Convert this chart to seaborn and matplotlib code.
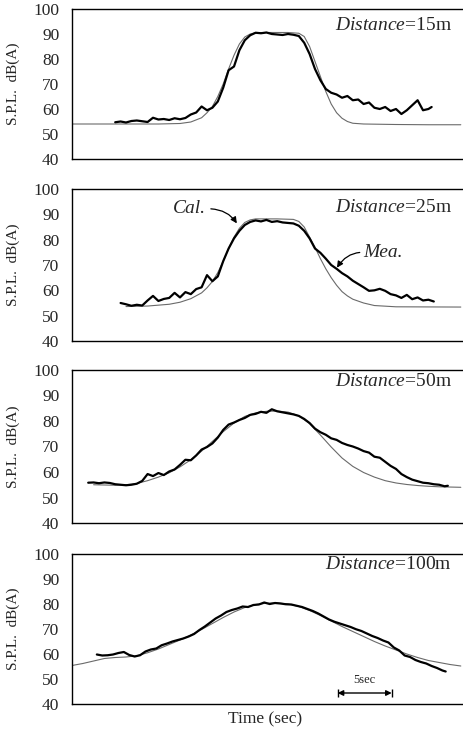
import matplotlib
matplotlib.use("Agg")
import matplotlib.pyplot as plt
import pandas as pd
import seaborn as sns

# ---------------- data ----------------
distances = ["15m", "25m", "50m", "100m"]
y_ticks = [40, 50, 60, 70, 80, 90, 100]

t_mea_15 = [4.0, 4.5, 5.0, 5.5, 6.0, 6.5, 7.0, 7.5, 8.0, 8.5, 9.0, 9.5, 10.0, 10.5, 11.0, 11.5,
            12.0, 12.5, 13.0, 13.5, 14.0, 14.5, 15.0, 15.5, 16.0, 16.5, 17.0, 17.5, 18.0, 18.5,
            19.0, 19.5, 20.0, 20.5, 21.0, 21.5, 22.0, 22.5, 23.0, 23.5, 24.0, 24.5, 25.0, 25.5,
            26.0, 26.5, 27.0, 27.5, 28.0, 28.5, 29.0, 29.5, 30.0, 30.5, 31.0, 31.5, 32.0, 32.5,
            33.0, 33.3]
mea_15 = [54.7, 55.0, 54.6, 55.2, 55.4, 55.1, 54.8, 56.5, 55.8, 56.0, 55.6, 56.3, 55.9, 56.4,
          57.8, 58.6, 61.0, 59.5, 60.5, 63.0, 68.5, 75.5, 77.0, 83.5, 87.5, 89.5, 90.5, 90.3,
          90.6, 90.0, 89.8, 89.6, 90.0, 89.7, 89.2, 86.5, 82.0, 76.0, 71.5, 68.0, 66.5, 65.8,
          64.5, 65.2, 63.5, 63.8, 62.0, 62.6, 60.5, 60.0, 60.8, 59.2, 60.0, 58.0, 59.5, 61.5,
          63.5, 59.5, 60.0, 60.8]
t_cal_15 = [0, 2, 4, 6, 8, 10, 11, 12, 12.5, 13, 13.5, 14, 14.5, 15, 15.5, 16, 16.5, 17, 18,
            19, 20, 21, 21.5, 22, 22.5, 23, 23.5, 24, 24.5, 25, 25.5, 26, 27, 30, 33, 36]
cal_15 = [54.0, 54.0, 54.0, 54.0, 54.0, 54.2, 54.8, 56.5, 58.5, 61.0, 65.0, 70.0, 76.0, 81.5,
          86.0, 88.8, 90.0, 90.5, 90.6, 90.6, 90.6, 90.3, 89.0, 85.0, 79.0, 73.0, 67.0, 62.0,
          58.5, 56.3, 55.0, 54.3, 54.0, 53.8, 53.7, 53.7]

t_mea_25 = [4.5, 5.0, 5.5, 6.0, 6.5, 7.0, 7.5, 8.0, 8.5, 9.0, 9.5, 10.0, 10.5, 11.0, 11.5,
            12.0, 12.5, 13.0, 13.5, 14.0, 14.5, 15.0, 15.5, 16.0, 16.5, 17.0, 17.5, 18.0, 18.5,
            19.0, 19.5, 20.0, 20.5, 21.0, 21.5, 22.0, 22.5, 23.0, 23.5, 24.0, 24.5, 25.0, 25.5,
            26.0, 26.5, 27.0, 27.5, 28.0, 28.5, 29.0, 29.5, 30.0, 30.5, 31.0, 31.5, 32.0, 32.5,
            33.0, 33.5]
mea_25 = [55.0, 54.5, 53.9, 54.3, 54.0, 56.0, 57.8, 55.8, 56.6, 57.0, 59.0, 57.2, 59.3, 58.5,
          60.5, 61.2, 66.0, 63.6, 65.5, 71.5, 76.5, 80.5, 83.5, 85.8, 87.0, 87.6, 87.2, 87.8,
          87.0, 87.3, 86.8, 86.6, 86.4, 85.5, 83.5, 80.5, 76.5, 74.8, 72.5, 70.0, 68.5, 66.8,
          65.5, 63.8, 62.5, 61.2, 59.8, 60.0, 60.6, 59.8, 58.5, 58.0, 57.0, 58.2, 56.5, 57.2,
          56.0, 56.3, 55.6]
t_cal_25 = [5, 7, 9, 10, 11, 12, 12.5, 13, 13.5, 14, 14.5, 15, 15.5, 16, 16.5, 17, 19, 20.5,
            21, 21.5, 22, 22.5, 23, 23.5, 24, 24.5, 25, 25.5, 26, 27, 28, 30, 36]
cal_25 = [53.6, 53.8, 54.5, 55.3, 56.7, 59.0, 61.0, 63.5, 67.0, 71.5, 76.5, 81.0, 84.5, 86.8,
          87.8, 88.2, 88.2, 88.0, 87.2, 85.0, 81.0, 77.0, 72.5, 68.5, 65.0, 62.0, 59.5, 57.8,
          56.5, 55.0, 54.0, 53.5, 53.4]

t_mea_50 = [1.5, 2.0, 2.5, 3.0, 3.5, 4.0, 4.5, 5.0, 5.5, 6.0, 6.5, 7.0, 7.5, 8.0, 8.5, 9.0,
            9.5, 10.0, 10.5, 11.0, 11.5, 12.0, 12.5, 13.0, 13.5, 14.0, 14.5, 15.0, 15.5, 16.0,
            16.5, 17.0, 17.5, 18.0, 18.5, 19.0, 19.5, 20.0, 20.5, 21.0, 21.5, 22.0, 22.5, 23.0,
            23.5, 24.0, 24.5, 25.0, 25.5, 26.0, 26.5, 27.0, 27.5, 28.0, 28.5, 29.0, 29.5, 30.0,
            30.5, 31.0, 31.5, 32.0, 32.5, 33.0, 33.5, 34.0, 34.5, 34.8]
mea_50 = [55.8, 55.9, 55.6, 55.9, 55.7, 55.2, 55.0, 54.8, 55.0, 55.4, 56.5, 59.2, 58.4, 59.6,
          58.8, 60.2, 61.0, 62.8, 64.8, 64.6, 66.5, 68.8, 69.8, 71.2, 73.5, 76.5, 78.6, 79.4,
          80.4, 81.2, 82.4, 82.8, 83.6, 83.2, 84.6, 83.8, 83.4, 83.0, 82.6, 82.0, 80.8, 79.2,
          77.0, 75.6, 74.6, 73.2, 72.6, 71.4, 70.6, 70.0, 69.2, 68.2, 67.6, 66.0, 65.6, 64.0,
          62.4, 61.2, 59.2, 58.0, 57.0, 56.4, 55.8, 55.6, 55.2, 55.0, 54.4, 54.6]
t_cal_50 = [2, 4, 5, 6, 7, 8, 9, 10, 11, 12, 13, 14, 15, 16, 17, 18, 19, 20, 21, 22, 23, 24,
            25, 26, 27, 28, 29, 30, 31, 32, 33, 34, 36]
cal_50 = [55.0, 54.8, 55.0, 55.5, 56.6, 58.0, 59.7, 62.0, 64.8, 68.2, 72.0, 75.8, 79.2, 81.8,
          83.2, 83.8, 83.9, 83.5, 82.0, 79.0, 74.5, 69.8, 65.5, 62.2, 59.8, 58.0, 56.6, 55.7,
          55.1, 54.7, 54.4, 54.2, 54.0]

t_mea_100 = [2.3, 2.8, 3.3, 3.8, 4.3, 4.8, 5.3, 5.8, 6.3, 6.8, 7.3, 7.8, 8.3, 8.8, 9.3, 9.8,
             10.3, 10.8, 11.3, 11.8, 12.3, 12.8, 13.3, 13.8, 14.3, 14.8, 15.3, 15.8, 16.3,
             16.8, 17.3, 17.8, 18.3, 18.8, 19.3, 19.8, 20.3, 20.8, 21.3, 21.8, 22.3, 22.8,
             23.3, 23.8, 24.3, 24.8, 25.3, 25.8, 26.3, 26.8, 27.3, 27.8, 28.3, 28.8, 29.3,
             29.8, 30.3, 30.8, 31.3, 31.8, 32.3, 32.8, 33.3, 33.8, 34.3, 34.6]
mea_100 = [59.8, 59.4, 59.5, 59.8, 60.4, 60.8, 59.6, 59.0, 59.5, 61.0, 61.8, 62.2, 63.5, 64.2,
           65.0, 65.6, 66.2, 67.0, 68.0, 69.6, 71.0, 72.6, 74.2, 75.4, 76.8, 77.6, 78.2, 79.0,
           78.8, 79.6, 79.8, 80.6, 80.0, 80.4, 80.2, 79.9, 79.8, 79.3, 78.8, 78.0, 77.2, 76.2,
           75.0, 73.8, 72.9, 72.2, 71.5, 70.8, 69.9, 69.2, 68.2, 67.2, 66.4, 65.4, 64.6, 62.6,
           61.4, 59.4, 58.8, 57.6, 56.8, 56.2, 55.2, 54.4, 53.4, 53.0]
t_cal_100 = [0, 1, 2, 3, 4, 5, 6, 7, 8, 9, 10, 11, 12, 13, 14, 15, 16, 17, 18, 19, 20, 21, 22,
             23, 24, 25, 26, 27, 28, 29, 30, 31, 32, 33, 34, 35, 36]
cal_100 = [55.4, 56.2, 57.2, 58.2, 58.6, 58.8, 59.3, 60.5, 62.0, 63.8, 65.6, 67.6, 69.8, 72.2,
           74.6, 76.8, 78.6, 79.8, 80.3, 80.4, 80.0, 79.0, 77.4, 75.4, 73.2, 71.0, 69.0, 67.0,
           65.0, 63.2, 61.6, 60.0, 58.6, 57.4, 56.6, 55.8, 55.2]

mea_times = [t_mea_15, t_mea_25, t_mea_50, t_mea_100]
mea_vals = [mea_15, mea_25, mea_50, mea_100]
cal_times = [t_cal_15, t_cal_25, t_cal_50, t_cal_100]
cal_vals = [cal_15, cal_25, cal_50, cal_100]

scale_start = 24.6   # sec
scale_len = 5        # sec

# ---------------- style ----------------
sns.set_style("white")
plt.rcParams["font.family"] = ["Liberation Serif", "DejaVu Serif"]
plt.rcParams["mathtext.fontset"] = "custom"
plt.rcParams["mathtext.it"] = "Liberation Serif:italic"
plt.rcParams["mathtext.rm"] = "Liberation Serif"

W, H = 463, 735
fig = plt.figure(figsize=(W / 100, H / 100), dpi=100)

# panel pixel extents (top, bottom)
panels_px = [(9, 159), (189, 341), (370, 523), (554, 704)]
label_y = [0.893, 0.88, 0.928, 0.933]
left_px, right_px = 72, 462

axes = []
for i, (top, bot) in enumerate(panels_px):
    ax = fig.add_axes([left_px / W, 1 - bot / H, (right_px - left_px) / W, (bot - top) / H])
    axes.append(ax)
    df_m = pd.DataFrame({"time": mea_times[i], "spl": mea_vals[i]})
    df_c = pd.DataFrame({"time": cal_times[i], "spl": cal_vals[i]})
    sns.lineplot(data=df_c, x="time", y="spl", ax=ax, color="#6a6a6a", linewidth=0.8,
                 estimator=None, sort=False)
    sns.lineplot(data=df_m, x="time", y="spl", ax=ax, color="black", linewidth=1.6,
                 estimator=None, sort=False)
    ax.set_xlim(0, (right_px - left_px) / 10.8)
    ax.set_ylim(40, 100)
    ax.set_yticks(y_ticks)
    ax.set_yticklabels([str(v) for v in y_ticks], fontsize=12.5)
    ax.set_xticks([])
    ax.tick_params(axis="y", length=0, pad=9)
    ax.set_xlabel("")
    ax.set_ylabel("S.P.L.  dB(A)", fontsize=11)
    ax.yaxis.set_label_coords(-(left_px - 20) / (right_px - left_px), 0.5)
    for s in ["left", "bottom", "top"]:
        ax.spines[s].set_visible(True)
        ax.spines[s].set_color("black")
        ax.spines[s].set_linewidth(1.0)
    ax.spines["right"].set_visible(False)
    ax.text(0.974, label_y[i], r"$\mathit{Distance}$=" + distances[i], transform=ax.transAxes,
            ha="right", va="center", fontsize=14)

# Cal. / Mea. annotations in 25m panel
ax2 = axes[1]
ax2.annotate("", xy=(15.4, 85.5), xytext=(12.6, 92.2),
             arrowprops=dict(arrowstyle="-|>", color="black", lw=0.9, mutation_scale=9,
                             connectionstyle="angle3,angleA=0,angleB=-60"))
ax2.text(12.4, 92.2, "Cal.", style="italic", fontsize=14, ha="right", va="center")
ax2.annotate("", xy=(24.4, 68.0), xytext=(26.9, 75.0),
             arrowprops=dict(arrowstyle="-|>", color="black", lw=0.9, mutation_scale=9,
                             connectionstyle="angle3,angleA=180,angleB=60"))
ax2.text(27.0, 75.0, "Mea.", style="italic", fontsize=14, ha="left", va="center")

# 5 sec scale bar in 100m panel
ax4 = axes[3]
ax4.annotate("", xy=(scale_start + scale_len, 44.4), xytext=(scale_start, 44.4),
             arrowprops=dict(arrowstyle="<|-|>", color="black", lw=1.0, mutation_scale=8,
                             shrinkA=0, shrinkB=0))
ax4.vlines([scale_start, scale_start + scale_len], 42.8, 46.0, color="black", lw=1.0)
ax4.text(scale_start + scale_len / 2, 47.2, "5sec", ha="center", va="bottom", fontsize=9)

fig.text(265 / W, 1 - 719 / H, "Time (sec)", ha="center", va="center", fontsize=12.5)

fig.savefig("out.png", dpi=100)
